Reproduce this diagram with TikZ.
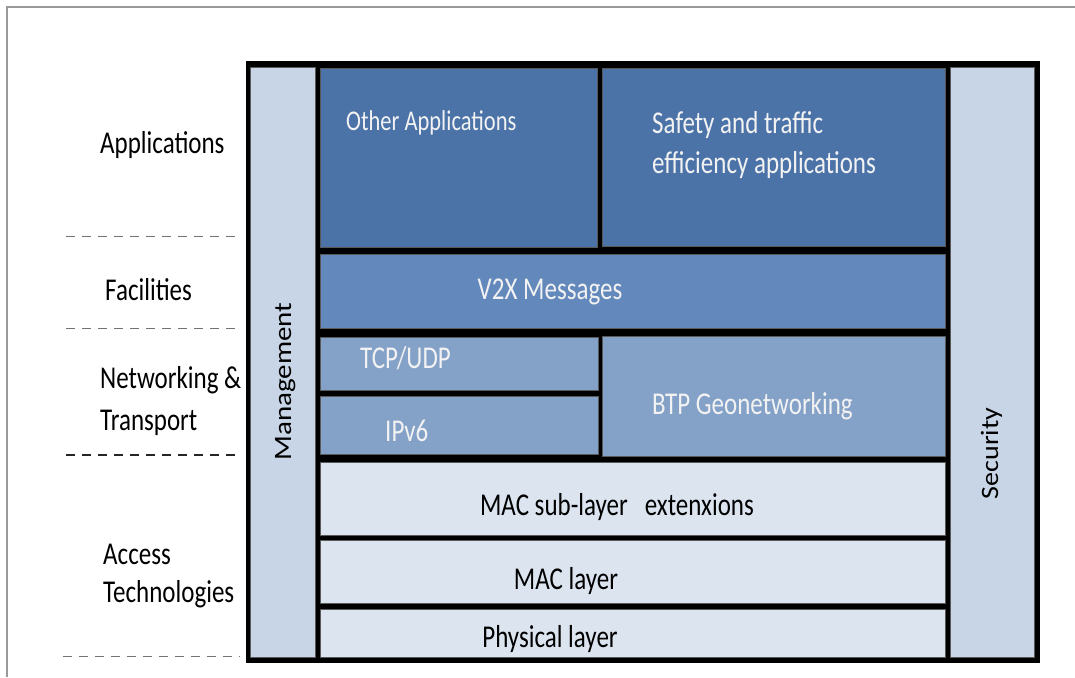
\documentclass[tikz,border=0pt]{standalone}
\usepackage{fontspec}
\usepackage{graphicx}
\setmainfont{Carlito}
\definecolor{appblue}{RGB}{75,115,168}
\definecolor{facblue}{RGB}{99,136,188}
\definecolor{netblue}{RGB}{132,161,200}
\definecolor{accblue}{RGB}{220,228,240}
\definecolor{sideblue}{RGB}{200,213,230}
\definecolor{txtwhite}{RGB}{242,242,242}
\newcommand\vstr[1]{\scalebox{1}[1.27]{#1}}
\newcommand\hstr[2]{\scalebox{#1}[1]{#2}}
\tikzset{
  layerbox/.style={draw=black!65, line width=0.8pt},
  wtext/.style={text=txtwhite, inner sep=0pt, font=\fontsize{25}{30}\selectfont},
  dtext/.style={text=black, inner sep=0pt, font=\fontsize{25}{30}\selectfont},
  ltext/.style={text=black, inner sep=0pt, anchor=base west, font=\fontsize{25}{30}\selectfont},
  sepline/.style={dash pattern=on 9pt off 7pt, line width=1pt},
}
\begin{document}
\begin{tikzpicture}[x=1pt,y=-1pt]
\useasboundingbox (0,0) rectangle (1075,677);
\fill[white] (0,0) rectangle (1075,677);
% figure frame
\coordinate (fl) at (7,677);
\coordinate (fc) at (7,7);
\coordinate (fr) at (1075,7);
\draw[black!40, line width=1.2pt] (fl) -- (fc) -- (fr);
% outer black frame
\fill[black] (246,61) rectangle (1040,663);
% side columns
\path[layerbox, fill=sideblue] (250,67) rectangle (315,657);
\path[layerbox, fill=sideblue] (950,67) rectangle (1034,657);
% applications
\path[layerbox, fill=appblue] (320,68) rectangle (597,247);
\path[layerbox, fill=appblue] (602,68) rectangle (945,246);
% facilities
\path[layerbox, fill=facblue] (320,254) rectangle (945,328);
% networking
\path[layerbox, fill=netblue] (320,337) rectangle (598,390);
\path[layerbox, fill=netblue] (320,396) rectangle (598,454);
\path[layerbox, fill=netblue] (602,336) rectangle (945,456);
% access
\path[layerbox, fill=accblue] (320,462) rectangle (945,535);
\path[layerbox, fill=accblue] (320,540) rectangle (945,603);
\path[layerbox, fill=accblue] (320,609) rectangle (945,657);
% texts inside
\node[wtext, anchor=base west, font=\fontsize{22.5}{27}\selectfont] (other) at (346,130) {\vstr{Other Applications}};
\node[wtext, anchor=base west] (safety1) at (652,133) {\vstr{Safety and traffic}};
\node[wtext, anchor=base west] (safety2) at (652,173) {\vstr{efficiency applications}};
\node[wtext, anchor=base] (v2x) at (550,299) {\vstr{V2X Messages}};
\node[wtext, anchor=base west] (tcp) at (360,368) {\vstr{TCP/UDP}};
\node[wtext, anchor=base west] (ipv6) at (385,441) {\vstr{IPv6}};
\node[wtext, anchor=base west] (btp) at (652,414) {\vstr{BTP Geonetworking}};
\node[dtext, anchor=base] (macsub) at (617,515) {\vstr{MAC sub-layer\ \ \ extenxions}};
\node[dtext, anchor=base] (mac) at (566,589) {\vstr{MAC layer}};
\node[dtext, anchor=base] (phy) at (550,647) {\vstr{Physical layer}};
\node[dtext, rotate=90, anchor=base] (mgmt) at (291,381.5) {\hstr{1.16}{Management}};
\node[dtext, rotate=90, anchor=base] (sec) at (998,453.5) {\hstr{1.12}{Security}};
% left labels
\node[ltext] (lapp) at (100,153) {\vstr{Applications}};
\node[ltext] (lfac) at (105,300) {\vstr{Facilities}};
\node[ltext] (lnet1) at (100,388) {\vstr{Networking \&}};
\node[ltext] (lnet2) at (100,430) {\vstr{Transport}};
\node[ltext] (lacc1) at (103,564) {\vstr{Access}};
\node[ltext] (lacc2) at (103,602) {\vstr{Technologies}};
% separator lines
\coordinate (s1a) at (66,236); \coordinate (s1b) at (241,236);
\coordinate (s2a) at (66,328); \coordinate (s2b) at (241,328);
\coordinate (s3a) at (66,455); \coordinate (s3b) at (242,455);
\coordinate (s4a) at (63,656); \coordinate (s4b) at (240,656);
\draw[sepline, black!55] (s1a) -- (s1b);
\draw[sepline, black!55] (s2a) -- (s2b);
\draw[sepline, black!85, line width=1.4pt] (s3a) -- (s3b);
\draw[sepline, black!55] (s4a) -- (s4b);
\end{tikzpicture}
\end{document}
